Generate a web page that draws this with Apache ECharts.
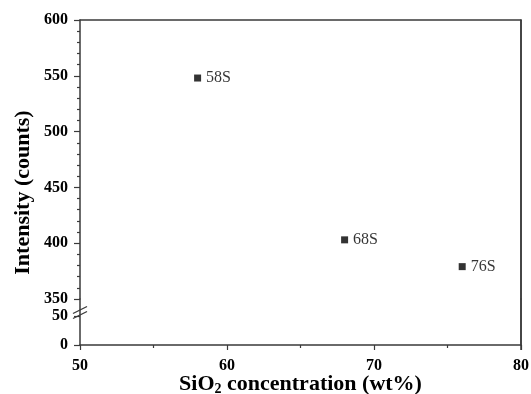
<!DOCTYPE html>
<html><head><meta charset="utf-8">
<script src="https://cdn.jsdelivr.net/npm/echarts@6/dist/echarts.min.js"></script>
<style>html,body{margin:0;padding:0;background:#fff}#c{width:531px;height:394px}</style>
</head><body><div id="c"></div>
<script>
const sampleNames = ['58S', '68S', '76S'];
const sio2 = [58, 68, 76];
const intensity = [548, 403, 379];
const xTicks = [50, 60, 70, 80];
const yTopTicks = [350, 400, 450, 500, 550, 600];
const yBottomTicks = [0, 50];
const xTitle = 'SiO{sub|2} concentration (wt%)';
const yTitle = 'Intensity (counts)';

const FONT = '"Liberation Serif", "Times New Roman", serif';
const AX = '#3a3a3a';
const L = 80, R = 10, TOP = 20, BRK = 299, BOT = 345;
const bottomMax = 50 * (BOT - BRK) / (BOT - 316);
const xMin = xTicks[0], xMax = xTicks[xTicks.length - 1];
const yMax = yTopTicks[yTopTicks.length - 1];

const chart = echarts.init(document.getElementById('c'));
chart.setOption({
  animation: false,
  backgroundColor: '#fff',
  grid: [
    {left: L, right: R, top: TOP, height: BRK - TOP, outerBoundsMode: 'none', containLabel: false},
    {left: L, right: R, top: BRK, height: BOT - BRK, outerBoundsMode: 'none', containLabel: false}
  ],
  xAxis: [
    {gridIndex: 0, type: 'value', min: xMin, max: xMax, position: 'top',
     axisLine: {show: true, lineStyle: {color: AX, width: 1.5}}, axisTick: {show: false},
     axisLabel: {show: false}, splitLine: {show: false}},
    {gridIndex: 1, type: 'value', min: xMin, max: xMax, interval: 10, position: 'bottom',
     axisLine: {show: true, onZero: false, lineStyle: {color: AX, width: 1.5}},
     axisTick: {show: true, inside: false, length: 5, lineStyle: {color: AX, width: 1.2}},
     minorTick: {show: true, splitNumber: 2, length: 3, lineStyle: {color: AX, width: 1.2}},
     axisLabel: {margin: 13, fontFamily: FONT, fontWeight: 'bold', fontSize: 16, color: '#000'},
     splitLine: {show: false}}
  ],
  yAxis: [
    {gridIndex: 0, type: 'value', min: yTopTicks[0], max: yMax, interval: 50, position: 'left',
     axisLine: {show: true, onZero: false, lineStyle: {color: AX, width: 1.5}},
     axisTick: {show: true, inside: false, length: 6, lineStyle: {color: AX, width: 1.2}},
     minorTick: {show: true, splitNumber: 5, length: 3, lineStyle: {color: AX, width: 1.2}},
     axisLabel: {margin: 12, fontFamily: FONT, fontWeight: 'bold', fontSize: 16, color: '#000'},
     splitLine: {show: false}},
    {gridIndex: 0, type: 'value', min: yTopTicks[0], max: yMax, position: 'right',
     axisLine: {show: true, onZero: false, lineStyle: {color: AX, width: 1.5}},
     axisTick: {show: false}, axisLabel: {show: false}, splitLine: {show: false}},
    {gridIndex: 1, type: 'value', min: 0, max: bottomMax, position: 'left',
     axisLine: {show: true, onZero: false, lineStyle: {color: AX, width: 1.5}},
     axisTick: {show: true, inside: false, length: 6, customValues: yBottomTicks, lineStyle: {color: AX, width: 1.2}},
     axisLabel: {margin: 12, customValues: yBottomTicks, fontFamily: FONT, fontWeight: 'bold', fontSize: 16, color: '#000'},
     splitLine: {show: false}},
    {gridIndex: 1, type: 'value', min: 0, max: bottomMax, position: 'right',
     axisLine: {show: true, onZero: false, lineStyle: {color: AX, width: 1.5}},
     axisTick: {show: false}, axisLabel: {show: false}, splitLine: {show: false}}
  ],
  series: [{
    type: 'scatter', xAxisIndex: 0, yAxisIndex: 0,
    symbol: 'rect', symbolSize: 7,
    itemStyle: {color: '#000'},
    data: sio2.map((x, i) => ({name: sampleNames[i], value: [x, intensity[i]]})),
    label: {show: true, position: 'right', distance: 5, formatter: '{b}',
      fontFamily: FONT, fontSize: 16, color: '#000'}
  }]
});

// frame edge and titles placed through the axes' own pixel mapping
let pTop = chart.convertToPixel({xAxisIndex: 0, yAxisIndex: 0}, [xMax, yMax]);
let pBot = chart.convertToPixel({xAxisIndex: 1, yAxisIndex: 2}, [xMax, 0]);
let pLeft = chart.convertToPixel({xAxisIndex: 1, yAxisIndex: 2}, [xMin, 0]);
if (!pTop || isNaN(pTop[0])) pTop = [531 - R, TOP];
if (!pBot || isNaN(pBot[0])) pBot = [531 - R, BOT];
if (!pLeft || isNaN(pLeft[0])) pLeft = [L, BOT];

chart.setOption({graphic: [
  {type: 'text', x: 23, y: (pTop[1] + pBot[1]) / 2 + 10, rotation: Math.PI / 2, z: 10,
   style: {text: yTitle, fill: '#000', font: 'bold 22px ' + FONT, align: 'center', verticalAlign: 'middle'}},
  {type: 'text', x: (pLeft[0] + pBot[0]) / 2, y: pBot[1] + 39, z: 10,
   style: {text: xTitle, fill: '#000', font: 'bold 22px ' + FONT, align: 'center', verticalAlign: 'middle',
     rich: {sub: {fontFamily: FONT, fontWeight: 'bold', fontSize: 14, fill: '#000', padding: [11, 0, 0, 0]}}}},
  {type: 'line', z: 10, shape: {x1: pLeft[0] - 7, y1: 313.5, x2: pLeft[0] + 7, y2: 306.5}, style: {stroke: AX, lineWidth: 1.3}},
  {type: 'line', z: 10, shape: {x1: pLeft[0] - 7, y1: 318.5, x2: pLeft[0] + 7, y2: 311.5}, style: {stroke: AX, lineWidth: 1.3}},
  {type: 'line', z: 10, shape: {x1: pTop[0], y1: pTop[1], x2: pBot[0], y2: pBot[1] + 5}, style: {stroke: AX, lineWidth: 1.5}}
]});
</script></body></html>
